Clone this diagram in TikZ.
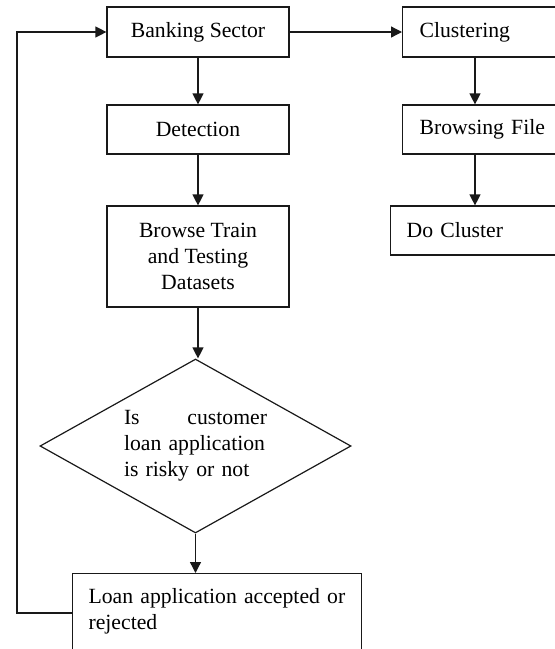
\documentclass[tikz,border=0pt]{standalone}
\usepackage{fontspec}
\setmainfont{Liberation Serif}
\usetikzlibrary{arrows.meta,positioning,shapes.geometric}
\colorlet{ink}{black!90}
\newcommand{\flowfont}{\fontsize{21.7}{26}\selectfont}
\tikzset{
  >={Triangle[length=11pt,width=11pt]},
  arrow/.style={-{Triangle[length=11pt,width=11pt]}, draw=ink, line width=1.3pt},
  box/.style={
    rectangle,
    draw=ink,
    line width=1.2pt,
    minimum width=182pt,
    minimum height=50pt,
    inner sep=0pt,
    align=center,
    font=\flowfont
  },
  leftbox/.style={
    box,
    align=left,
    minimum width=0pt,
    inner xsep=17pt
  },
  decision/.style={
    diamond,
    draw=ink,
    line width=1.2pt,
    shape aspect=1.787,
    minimum width=311pt,
    minimum height=174pt,
    inner sep=0pt,
    text width=143pt,
    align=left,
    font=\flowfont
  }
}

\begin{document}
\begin{tikzpicture}[x=1pt,y=-1pt]
  \useasboundingbox (0,0) rectangle (555,649);
  \clip (0,0) rectangle (555,649);

  % left column
  \node[box] (bank) at (198,32) {Banking Sector};
  \node[box, minimum height=49pt] (detect) at (198,129.5) {Detection};
  \node[box, minimum height=101pt] (browse) at (198,256.5) {Browse Train\\and Testing\\Datasets};
  \node[decision] (decide) at (195.5,446) {\hyphenpenalty=10000 Is\hfill customer\\loan application\\is risky or not};
  \node[box, anchor=north west, minimum width=0pt, minimum height=0pt, text width=257pt, align=left,
        inner xsep=16pt, inner ysep=15pt, text depth=40pt] (loan) at (72,573) {Loan application accepted or\\rejected};

  % right column
  \node[leftbox, anchor=west, text width=130pt, minimum height=50pt] (clust) at (402,32) {Clustering};
  \node[leftbox, anchor=west, text width=130pt, minimum height=49pt] (bfile) at (402,129.5) {Browsing File};
  \node[leftbox, anchor=west, inner xsep=16pt, text width=144pt, minimum height=49pt] (docl) at (390,230.5) {Do Cluster};

  \coordinate (raxis) at (475,0);
  \coordinate (fb) at (17,613);

  \draw[arrow] (bank.south) -- (detect.north);
  \draw[arrow] (detect.south) -- (browse.north);
  \draw[arrow] (browse.south) -- (browse.south |- decide.north);
  \draw[arrow] (decide.south) -- (decide.south |- loan.north);
  \draw[arrow] (loan.west |- fb) -- (fb) |- (bank.west);
  \draw[arrow] (bank.east) -- (clust.west);
  \draw[arrow] (clust.south -| raxis) -- (bfile.north -| raxis);
  \draw[arrow] (bfile.south -| raxis) -- (docl.north -| raxis);
\end{tikzpicture}
\end{document}
